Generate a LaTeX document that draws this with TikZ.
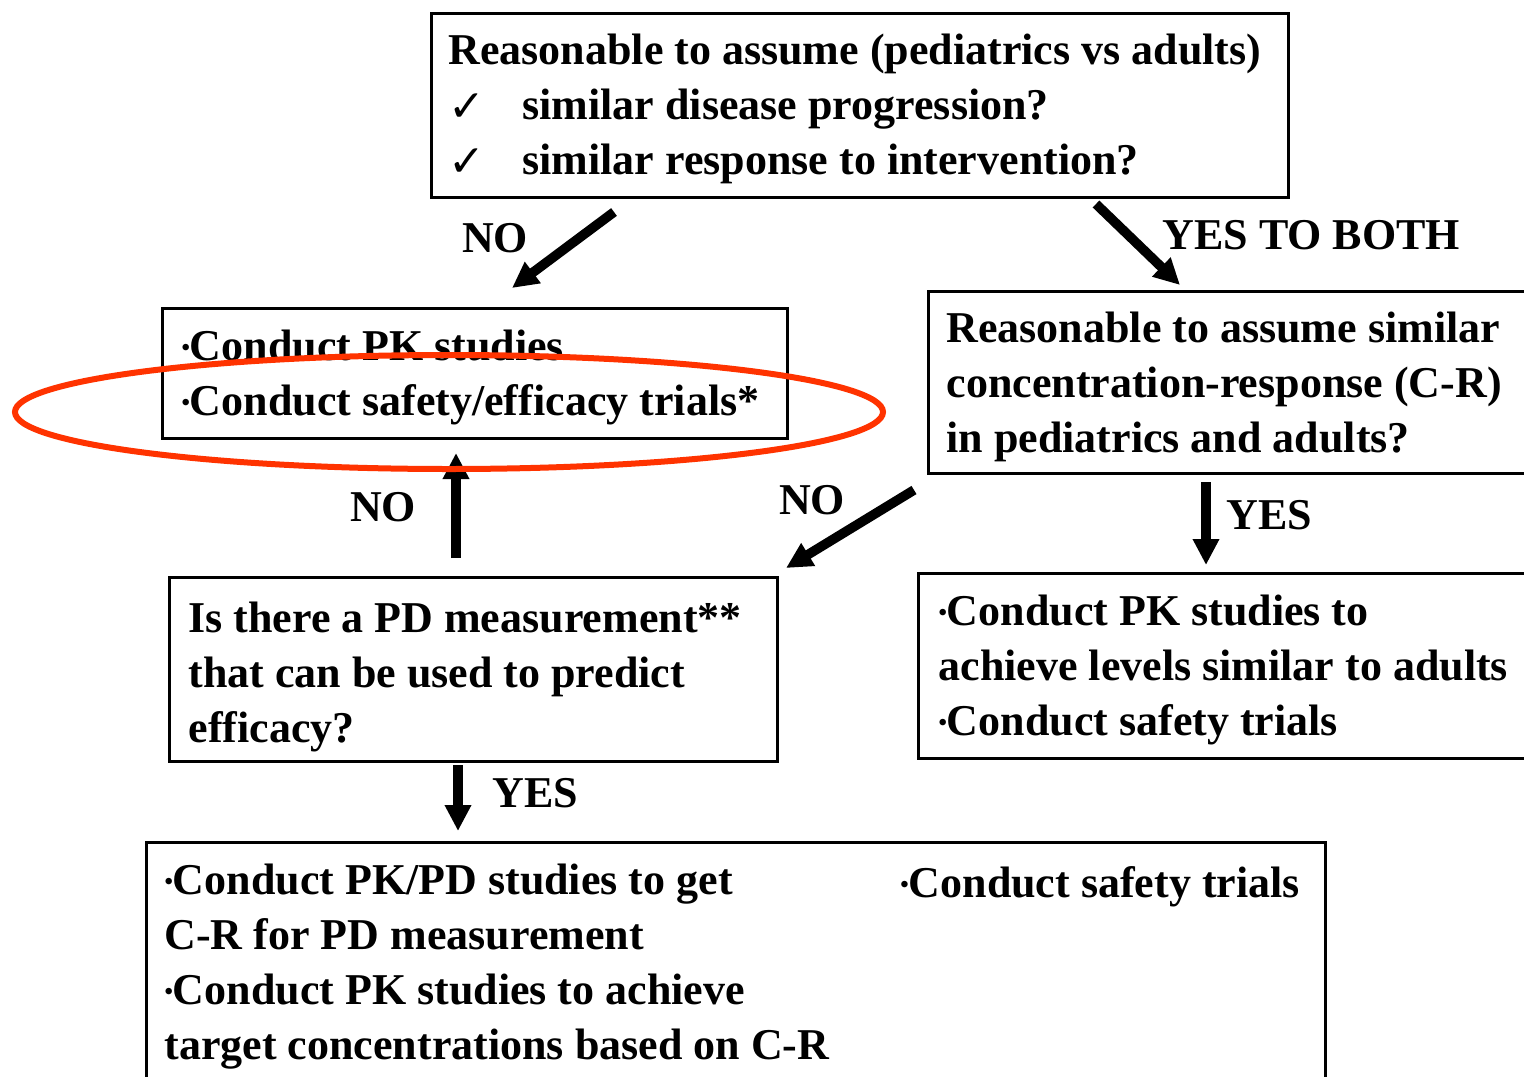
\documentclass[tikz,border=0pt]{standalone}
\usepackage{fontspec}
\setmainfont{Liberation Serif}
\newfontfamily\dejavu{DejaVu Sans}
\usetikzlibrary{arrows.meta,shapes.geometric}
\definecolor{ovalred}{RGB}{255,51,0}
\newcommand\bul{\raisebox{2.5pt}{\fontsize{12}{12}\selectfont\textbullet}}
\newcommand\chk{\makebox[37pt][l]{\raisebox{-1pt}{\dejavu\fontsize{22}{22}\selectfont\mdseries ✓}}}
\newcommand\boxlines[3]{\raisebox{-#2}[\height][\depth]{\makebox[#1][l]{\begin{tabular}{@{}l@{}}#3\end{tabular}}}}
\begin{document}
\begin{tikzpicture}[x=0.5pt,y=-0.5pt,
  every node/.style={font=\fontsize{22}{27.5}\selectfont\bfseries},
  box/.style={draw, line width=1.5pt, anchor=north west, inner ysep=0pt},
  lbl/.style={inner sep=0pt},
  bigarrow/.style={line width=4.8pt, -{Triangle[length=13pt,width=12.5pt]}},
  oval/.style={ellipse, draw=ovalred, line width=3pt, inner sep=0pt, minimum width=434pt, minimum height=57pt}
]
\useasboundingbox (0,0) rectangle (1524,1076);
\begin{scope}
\clip (0,0) rectangle (1524,1076);

% boxes
\node[box, inner xsep=8.5pt, minimum width=428.5pt, minimum height=92pt] (top) at (430,12)
  {\boxlines{411.5pt}{1.5pt}{Reasonable to assume (pediatrics vs adults)\\ \chk similar disease progression?\\ \chk similar response to intervention?}};

\node[box, inner xsep=9.5pt, minimum width=312.5pt, minimum height=65pt] (noA) at (161,307)
  {\boxlines{293.5pt}{1.5pt}{\bul Conduct PK studies\\ \bul Conduct safety/efficacy trials*}};

\node[box, inner xsep=9pt, minimum width=316.5pt, minimum height=91pt] (crA) at (927,290)
  {\boxlines{298.5pt}{2pt}{Reasonable to assume similar\\ concentration-response (C-R)\\ in pediatrics and adults?}};

\node[box, inner xsep=10pt, minimum width=321.5pt, minimum height=92.5pt] (yesA) at (917,572)
  {\boxlines{301.5pt}{1.5pt}{\bul Conduct PK studies to\\ achieve levels similar to adults\\ \bul Conduct safety trials}};

\node[box, inner xsep=9.5pt, minimum width=304pt, minimum height=92pt] (pd) at (168,576)
  {\boxlines{285pt}{3.5pt}{Is there a PD measurement**\\ that can be used to predict\\ efficacy?}};

\node[box, inner xsep=9pt, minimum width=589.5pt, minimum height=122pt] (pkpd) at (145,841)
  {\boxlines{571.5pt}{0.5pt}{\bul Conduct PK/PD studies to get\\ C-R for PD measurement\\ \bul Conduct PK studies to achieve\\ target concentrations based on C-R}};

\node[lbl, anchor=west] (safetyB) at (900,887) {\bul Conduct safety trials};

% labels
\node[lbl] (noL1) at (495,238) {NO};
\node[lbl, anchor=west] (yesBoth) at (1162,235) {YES TO BOTH};
\node[lbl] (noL2) at (383,507) {NO};
\node[lbl] (noL3) at (812,500) {NO};
\node[lbl, anchor=west] (yesL1) at (1226,515) {YES};
\node[lbl, anchor=west] (yesL2) at (492,793) {YES};

% arrow end points
\coordinate (a1s) at (614,212); \coordinate (a1e) at (512,288);
\coordinate (a2s) at (1096,204); \coordinate (a2e) at (1180,285);
\coordinate (a3s) at (456,558); \coordinate (a3e) at (456,453);
\coordinate (a4s) at (914,490); \coordinate (a4e) at (786,568);
\coordinate (a5s) at (1206,482); \coordinate (a5e) at (1206,565);
\coordinate (a6s) at (458,765); \coordinate (a6e) at (458,831);

\draw[bigarrow] (a1s) -- (a1e);
\draw[bigarrow] (a2s) -- (a2e);
\draw[bigarrow] (a3s) -- (a3e);
\draw[bigarrow] (a4s) -- (a4e);
\draw[bigarrow] (a5s) -- (a5e);
\draw[bigarrow] (a6s) -- (a6e);

% highlight oval
\node[oval] (hl) at (449,412) {};
\end{scope}
\end{tikzpicture}
\end{document}
